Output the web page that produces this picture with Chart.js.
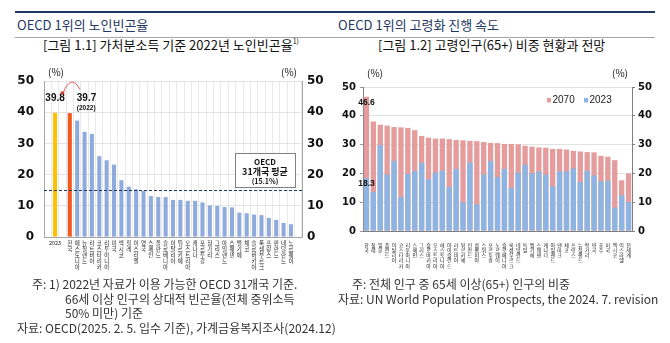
<!DOCTYPE html>
<html><head><meta charset="utf-8">
<script src="https://cdn.jsdelivr.net/npm/chart.js@4.4.1/dist/chart.umd.min.js"></script>
<style>
body{margin:0;width:670px;height:343px;background:#fff;position:relative;overflow:hidden;font-family:"Noto Sans CJK KR","Noto Sans",sans-serif;}
.abs{position:absolute;white-space:nowrap;line-height:16px;}
.rule{position:absolute;}
canvas{position:absolute;}
.hdr{font-size:13px;color:#1F3864;}
.ttl{font-size:13px;color:#111;}
.fn{font-size:12px;color:#333;}
sup{font-size:7px;vertical-align:6px;line-height:0}
</style></head>
<body>
<div class="rule" style="left:15px;top:11px;width:640px;height:2px;background:#1F3864"></div>
<div class="rule" style="left:15px;top:37px;width:640px;height:1px;background:#A6A6A6"></div>
<div class="abs hdr" style="left:17px;top:17px">OECD 1위의 노인빈곤율</div>
<div class="abs hdr" style="left:338px;top:17px">OECD 1위의 고령화 진행 속도</div>
<div class="abs ttl" style="left:43px;top:37px">[그림 1.1] 가처분소득 기준 2022년 노인빈곤율<sup>1)</sup></div>
<div class="abs ttl" style="left:378px;top:37px">[그림 1.2] 고령인구(65+) 비중 현황과 전망</div>

<canvas id="cL" width="335" height="225" style="left:0;top:55px"></canvas>
<canvas id="cR" width="335" height="225" style="left:335px;top:55px"></canvas>

<div class="abs fn" style="left:32px;top:276px">주: 1) 2022년 자료가 이용 가능한 OECD 31개국 기준.</div>
<div class="abs fn" style="left:65px;top:291px">66세 이상 인구의 상대적 빈곤율(전체 중위소득</div>
<div class="abs fn" style="left:65px;top:305px">50% 미만) 기준</div>
<div class="abs fn" style="left:17px;top:320px">자료: OECD(2025. 2. 5. 입수 기준), 가계금융복지조사(2024.12)</div>
<div class="abs fn" style="left:352px;top:276px">주: 전체 인구 중 65세 이상(65+) 인구의 비중</div>
<div class="abs fn" style="left:338px;top:291px">자료: UN World Population Prospects, the 2024. 7. revision</div>

<script>
// ---------- DATA ----------
const leftCategories = ['', '2023', '', '한국', '에스토니아', '뉴질랜드', '라트비아', '코스타리카', '리투아니아', '미국', '멕시코', '칠레', '이스라엘', '영국', '스페인', '폴란드', '슬로베니아', '이탈리아', '튀르키예', '오스트리아', '캐나다', '포르투갈', '헝가리', '그리스', '아일랜드', '스웨덴', '벨기에', '체코', '슬로바키아', '룩셈부르크', '프랑스', '핀란드', '네덜란드', '노르웨이', ''];
const povertyRates = [null, 39.8, null, 39.7, 37.3, 33.7, 33.0, 25.9, 24.6, 23.2, 18.2, 16.1, 15.3, 14.8, 13.1, 12.8, 12.8, 11.9, 11.9, 11.6, 11.6, 11.1, 10.1, 10.0, 9.6, 9.5, 7.8, 7.6, 7.2, 7.0, 6.1, 5.5, 4.5, 4.1, null];
const oecdAverage = 15.1;
const yTicks = [0, 10, 20, 30, 40, 50];

const rightCategories = ['한국', '칠레', '일본', '폴란드', '이탈리아', '코스타리카', '리투아니아', '스페인', '그리스', '슬로바키아', '오스트리아', '에스토니아', '아이슬란드', '라트비아', '튀르키예', '핀란드', '콜롬비아', '스위스', '포르투갈', '노르웨이', '슬로베니아', '룩셈부르크', '네덜란드', '독일', '벨기에', '스웨덴', '캐나다', '아일랜드', '덴마크', '체코', '프랑스', '뉴질랜드', '헝가리', '영국', '호주', '미국', '멕시코', '이스라엘', '전세계'];
const share2070 = [46.6, 38.0, 36.9, 36.6, 36.1, 36.0, 35.8, 35.0, 33.0, 32.4, 32.1, 32.1, 31.9, 31.6, 31.5, 31.3, 31.2, 30.9, 30.6, 30.5, 30.2, 30.2, 30.1, 29.6, 29.3, 29.0, 28.9, 28.5, 28.5, 28.3, 27.8, 27.6, 27.4, 27.3, 26.1, 25.8, 24.6, 17.6, 20.0];
const share2023 = [18.3, 13.6, 29.8, 19.6, 24.3, 11.8, 19.8, 20.9, 23.6, 18.0, 20.3, 20.9, 15.3, 21.5, 10.0, 23.7, 9.3, 19.6, 24.3, 18.7, 21.5, 15.0, 20.3, 23.0, 20.1, 20.6, 19.6, 15.5, 20.7, 20.7, 21.7, 17.0, 20.9, 19.3, 17.3, 17.4, 8.1, 12.4, 10.1];

// ---------- STYLES ----------
const KR = '"Noto Sans CJK KR", sans-serif';
const leftColors = leftCategories.map(c => c === '2023' ? '#FFC000' : (c === '한국' ? '#F4581E' : '#8FAADC'));
const vertical = s => s === '2023' ? s : Array.from(s);

// ---------- LEFT CHART ----------
const leftAnno = {
  id: 'leftAnno',
  afterDatasetsDraw(chart) {
    const {ctx, chartArea: a, scales: {x, y}} = chart;
    ctx.save();
    const yAvg = y.getPixelForValue(oecdAverage);
    ctx.strokeStyle = '#1F3864'; ctx.lineWidth = 1; ctx.setLineDash([3, 2]);
    ctx.beginPath(); ctx.moveTo(a.left, Math.round(yAvg) + 0.5); ctx.lineTo(a.right, Math.round(yAvg) + 0.5); ctx.stroke();
    ctx.setLineDash([]);
    // average box
    const bx1 = Math.round(a.right - 67), bx2 = Math.round(a.right - 7);
    const by1 = Math.round(y.getPixelForValue(26.9)), by2 = Math.round(y.getPixelForValue(16.0));
    ctx.fillStyle = '#fff'; ctx.fillRect(bx1, by1, bx2 - bx1, by2 - by1);
    ctx.strokeStyle = '#808080'; ctx.strokeRect(bx1 + 0.5, by1 + 0.5, bx2 - bx1, by2 - by1);
    const cx = (bx1 + bx2) / 2;
    ctx.fillStyle = '#111'; ctx.textAlign = 'center'; ctx.textBaseline = 'middle';
    ctx.font = 'bold 8px ' + KR; ctx.fillText('OECD', cx, by1 + 9);
    ctx.font = 'bold 9px ' + KR; ctx.fillText('31개국 평균', cx, by1 + 19);
    ctx.font = 'bold 7px ' + KR; ctx.fillText('(' + oecdAverage + '%)', cx, by1 + 28);
    // value labels
    const x2023 = x.getPixelForValue(1), xKor = x.getPixelForValue(3);
    ctx.font = 'bold 10px "Liberation Sans", Arial';
    ctx.fillText(String(povertyRates[1]), x2023, y.getPixelForValue(44.6));
    ctx.textAlign = 'left';
    ctx.fillText(String(povertyRates[3]), xKor + 7, y.getPixelForValue(44.6));
    ctx.font = 'bold 6.5px "Liberation Sans", Arial';
    ctx.fillText('(2022)', xKor + 7, y.getPixelForValue(41.3));
    // red curved arrow
    const sx = xKor + 10, sy = y.getPixelForValue(47.3);
    const ex = x2023 + 8, ey = y.getPixelForValue(46.2);
    const qx = (sx + ex) / 2, qy = y.getPixelForValue(52.5);
    ctx.strokeStyle = '#E0302A'; ctx.lineWidth = 0.8;
    ctx.beginPath(); ctx.moveTo(sx, sy); ctx.quadraticCurveTo(qx, qy, ex, ey); ctx.stroke();
    ctx.fillStyle = '#E0302A';
    ctx.beginPath(); ctx.moveTo(ex - 1.5, ey + 2.5); ctx.lineTo(ex - 2.5, ey - 1.5); ctx.lineTo(ex + 1.8, ey - 0.5); ctx.closePath(); ctx.fill();
    // unit labels
    ctx.fillStyle = '#111'; ctx.textAlign = 'center';
    ctx.font = '10px ' + KR;
    ctx.fillText('(%)', a.left + 12, a.top - 9);
    ctx.fillText('(%)', a.right - 13, a.top - 9);
    ctx.restore();
  }
};

new Chart(document.getElementById('cL'), {
  type: 'bar',
  data: {
    labels: leftCategories,
    datasets: [{ data: povertyRates, backgroundColor: leftColors, borderWidth: 0, categoryPercentage: 1, barPercentage: 0.55 }]
  },
  options: {
    responsive: false, animation: false, devicePixelRatio: 1,
    layout: { padding: { top: 26, left: 0, right: 0, bottom: 0 } },
    plugins: { legend: { display: false }, tooltip: { enabled: false } },
    scales: {
      x: {
        afterFit(s) { s.height = 43; },
        grid: { color: '#E3E3E3', lineWidth: 0.8, drawTicks: false, offset: true },
        border: { color: '#A6A6A6' },
        ticks: { autoSkip: false, maxRotation: 0, minRotation: 0, padding: 3, color: '#222',
          font: { family: KR, size: 5.5, lineHeight: 1.08 },
          callback(v) { return vertical(leftCategories[v]); } }
      },
      y: {
        position: 'left', min: 0, max: 50,
        afterFit(s) { s.width = 44; },
        afterBuildTicks(s) { s.ticks = yTicks.map(v => ({ value: v })); },
        grid: { color: '#DDDDDD', lineWidth: 0.8, drawTicks: false },
        border: { color: '#A6A6A6' },
        ticks: { padding: 10, color: '#111', font: { family: 'DejaVu Sans', weight: 'bold', size: 12 } }
      },
      y2: {
        position: 'right', min: 0, max: 50,
        afterFit(s) { s.width = 33; },
        afterBuildTicks(s) { s.ticks = yTicks.map(v => ({ value: v })); },
        grid: { drawOnChartArea: false, drawTicks: false },
        border: { color: '#A6A6A6' },
        ticks: { padding: 5, color: '#111', font: { family: 'DejaVu Sans', weight: 'bold', size: 12 } }
      }
    }
  },
  plugins: [leftAnno]
});

// ---------- RIGHT CHART ----------
const rightAnno = {
  id: 'rightAnno',
  afterDatasetsDraw(chart) {
    const {ctx, chartArea: a, scales: {x, y}} = chart;
    ctx.save();
    ctx.fillStyle = '#111'; ctx.textAlign = 'center'; ctx.textBaseline = 'middle';
    ctx.font = 'bold 8.5px "Liberation Sans", Arial';
    const xk = x.getPixelForValue(0);
    ctx.fillText(String(share2070[0]), xk, y.getPixelForValue(44.7));
    ctx.fillText(String(share2023[0]), xk, y.getPixelForValue(16.6));
    ctx.font = '10px ' + KR;
    ctx.fillText('(%)', a.left + 12, a.top - 14);
    ctx.fillText('(%)', a.right - 12, a.top - 14);
    // legend
    const ly = y.getPixelForValue(45.5);
    const items = [['2070', '#E59C9C', a.right - 85], ['2023', '#8DB4E2', a.right - 48]];
    ctx.textAlign = 'left'; ctx.font = '10px "Liberation Sans", Arial';
    for (const [t, c, lx] of items) {
      ctx.fillStyle = c; ctx.fillRect(lx, ly - 2, 4, 4.5);
      ctx.fillStyle = '#222'; ctx.fillText(t, lx + 5.5, ly + 0.5);
    }
    ctx.restore();
  }
};

new Chart(document.getElementById('cR'), {
  type: 'bar',
  data: {
    labels: rightCategories,
    datasets: [
      { label: '2070', data: share2070, backgroundColor: '#E59C9C', borderWidth: 0, grouped: false, order: 2, categoryPercentage: 1, barPercentage: 0.77 },
      { label: '2023', data: share2023, backgroundColor: '#8DB4E2', borderWidth: 0, grouped: false, order: 1, categoryPercentage: 1, barPercentage: 0.77 }
    ]
  },
  options: {
    responsive: false, animation: false, devicePixelRatio: 1,
    layout: { padding: { top: 32, left: 0, right: 0, bottom: 0 } },
    plugins: { legend: { display: false }, tooltip: { enabled: false } },
    scales: {
      x: {
        afterFit(s) { s.height = 49; },
        grid: { display: false },
        border: { color: '#7F7F7F' },
        ticks: { autoSkip: false, maxRotation: 0, minRotation: 0, padding: 3, color: '#222',
          font: { family: KR, size: 5, lineHeight: 1.05 },
          callback(v) { return vertical(rightCategories[v]); } }
      },
      y: {
        position: 'left', min: 0, max: 50,
        afterFit(s) { s.width = 28; },
        afterBuildTicks(s) { s.ticks = yTicks.map(v => ({ value: v })); },
        grid: { color: '#D9D9D9', lineWidth: 0.8, tickLength: 3, tickColor: '#7F7F7F' },
        border: { color: '#7F7F7F' },
        ticks: { padding: 4, color: '#111', font: { family: 'DejaVu Sans', weight: 'bold', size: 10 } }
      },
      y2: {
        position: 'right', min: 0, max: 50,
        afterFit(s) { s.width = 38; },
        afterBuildTicks(s) { s.ticks = yTicks.map(v => ({ value: v })); },
        grid: { drawOnChartArea: false, tickLength: 3, color: '#7F7F7F' },
        border: { color: '#7F7F7F' },
        ticks: { padding: 3, color: '#111', font: { family: 'DejaVu Sans', weight: 'bold', size: 10 } }
      }
    }
  },
  plugins: [rightAnno]
});
</script>
</body></html>
